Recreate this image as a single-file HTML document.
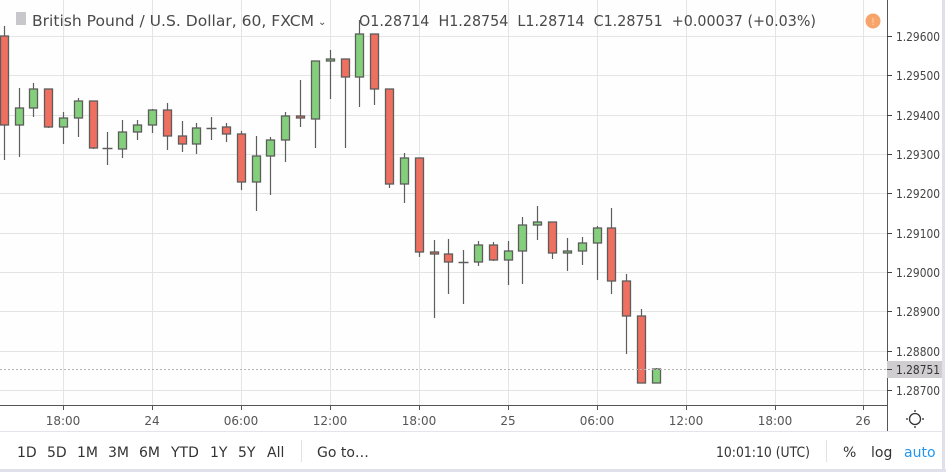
<!DOCTYPE html>
<html><head><meta charset="utf-8"><style>
html,body{margin:0;padding:0;background:#fff;}
body{width:946px;height:472px;overflow:hidden;position:relative;font-family:"DejaVu Sans","Liberation Sans",sans-serif;}
svg text{font-family:"DejaVu Sans","Liberation Sans",sans-serif;}
</style></head><body>
<svg width="946" height="472" viewBox="0 0 946 472" xmlns="http://www.w3.org/2000/svg">
<rect x="0" y="0" width="946" height="472" fill="#fff"/>
<rect x="0" y="0" width="887" height="405" fill="#fdfefd"/>
<g id="grid" stroke="#e4e4e4" stroke-width="1"></g>
<g id="candles"></g>
<line x1="0" y1="369.5" x2="887" y2="369.5" stroke="#b5b5b5" stroke-dasharray="2,2"/>
<!-- header -->
<rect x="16" y="12" width="10" height="13" fill="#c8c8cc"/>
<text x="32" y="26" font-size="15" fill="#4a4a4a" textLength="282" lengthAdjust="spacingAndGlyphs">British Pound / U.S. Dollar, 60, FXCM</text>
<text x="318" y="25" font-size="10" fill="#4a4a4a">⌄</text>
<text x="359" y="26" font-size="15" fill="#4a4a4a" xml:space="preserve" textLength="457" lengthAdjust="spacingAndGlyphs">O1.28714  H1.28754  L1.28714  C1.28751  +0.00037 (+0.03%)</text>
<circle cx="873" cy="21" r="7.5" fill="#f7a46b"/>
<text x="873" y="25" font-size="10" fill="#fcd3b2" text-anchor="middle">!</text>
<!-- price axis -->
<rect x="887" y="0" width="59" height="405" fill="#fff"/>
<line x1="887.5" y1="0" x2="887.5" y2="432" stroke="#555" stroke-width="1"/>
<g id="paxis" font-size="12" fill="#444"></g>
<rect x="887" y="361" width="56" height="17" fill="#cfcdd0"/>
<line x1="887" y1="369.5" x2="892" y2="369.5" stroke="#444"/>
<text x="896" y="374" font-size="12" fill="#333" textLength="44" lengthAdjust="spacingAndGlyphs">1.28751</text>
<!-- time axis -->
<line x1="0" y1="405.5" x2="887" y2="405.5" stroke="#555"/>
<g id="taxis" font-size="12" fill="#555"></g>
<circle cx="915" cy="419" r="5.5" fill="none" stroke="#333" stroke-width="1.3"/>
<g stroke="#333" stroke-width="1.3"><line x1="915" y1="410" x2="915" y2="412"/><line x1="915" y1="426" x2="915" y2="428"/><line x1="906" y1="419" x2="908" y2="419"/><line x1="922" y1="419" x2="924" y2="419"/></g>
<!-- toolbar -->
<line x1="0" y1="431.5" x2="943" y2="431.5" stroke="#e4e4ea"/>
<line x1="943.5" y1="0" x2="943.5" y2="472" stroke="#e0e0ea" stroke-width="3"/>
<line x1="0" y1="470.5" x2="946" y2="470.5" stroke="#e0e0ea" stroke-width="3"/>
<g font-size="14" fill="#333">
<text x="17" y="457">1D</text><text x="47" y="457">5D</text><text x="77" y="457">1M</text><text x="108" y="457">3M</text><text x="139" y="457">6M</text><text x="171" y="457">YTD</text><text x="210" y="457">1Y</text><text x="238" y="457">5Y</text><text x="267" y="457">All</text>
<text x="317" y="457">Go to…</text>
<text x="716" y="457" textLength="94" lengthAdjust="spacingAndGlyphs">10:01:10 (UTC)</text>
<text x="843" y="457">%</text><text x="871" y="457">log</text>
<text x="904" y="457" fill="#2196f3">auto</text>
</g>
<line x1="301.5" y1="440" x2="301.5" y2="462" stroke="#e0e0e6"/>
<line x1="826.5" y1="440" x2="826.5" y2="462" stroke="#e0e0e6"/>
</svg>
<script>
const NS="http://www.w3.org/2000/svg";
function el(p,t,a,txt){const e=document.createElementNS(NS,t);for(const k in a)e.setAttribute(k,a[k]);if(txt)e.textContent=txt;document.getElementById(p).appendChild(e);}
const vx=[63,152,241,330,419,508,597,686,775,863];
vx.forEach(x=>el("grid","line",{x1:x+.5,y1:0,x2:x+.5,y2:405}));
const pl=["1.29600","1.29500","1.29400","1.29300","1.29200","1.29100","1.29000","1.28900","1.28800","1.28700"];
for(let i=0;i<10;i++){const y=Math.round(36+39.33*i)+.5;el("grid","line",{x1:0,y1:y,x2:887,y2:y});
 el("paxis","line",{x1:887,y1:y,x2:892,y2:y,stroke:"#444"});el("paxis","text",{x:896,y:y+4.5,textLength:44,lengthAdjust:"spacingAndGlyphs"},pl[i]);}
const tl=["18:00","24","06:00","12:00","18:00","25","06:00","12:00","18:00","26"];
vx.forEach((x,i)=>{el("taxis","line",{x1:x+.5,y1:405,x2:x+.5,y2:410,stroke:"#555"});el("taxis","text",{x:x,y:425,"text-anchor":"middle"},tl[i]);});
const C=[[26,36,125,160,'r'],[88,108,125,157,'g'],[83,89,108,117,'g'],[89,89,127,128,'r'],[112,118,127,144,'g'],[98,101,118,137,'g'],[101,101,148,149,'r'],[132,148,148,165,'d'],[120,132,149,158,'g'],[120,125,132,140,'g'],[109,110,125,133,'g'],[103,110,136,150,'r'],[121,136,144,152,'r'],[123,128,144,154,'g'],[117,128,128,140,'d'],[123,127,134,142,'r'],[131,134,182,190,'r'],[136,156,182,211,'g'],[137,140,156,195,'g'],[112,116,140,162,'g'],[80,116,118,127,'r'],[61,61,119,148,'g'],[50,59,61,99,'g'],[59,59,77,148,'r'],[20,34,77,107,'g'],[34,34,89,105,'r'],[89,89,184,188,'r'],[153,158,184,203,'g'],[158,158,252,257,'r'],[240,252,254,318,'r'],[239,254,262,294,'r'],[250,262,262,304,'d'],[241,245,262,266,'g'],[242,245,260,261,'r'],[241,251,260,285,'g'],[217,225,251,284,'g'],[206,222,225,240,'g'],[222,222,253,259,'r'],[238,251,253,271,'g'],[237,243,251,265,'g'],[226,228,243,280,'g'],[208,228,281,294,'r'],[274,281,316,354,'r'],[309,316,383,383,'r'],[368,369,383,383,'g']];
C.forEach((c,i)=>{const x=Math.round(63+(i-4)*14.82)+.5;
 el("candles","line",{x1:x,y1:c[0],x2:x,y2:c[3],stroke:"#5d5d5d","stroke-width":1.2});
 if(c[4]=='d'){el("candles","line",{x1:x-5,y1:c[1]+.5,x2:x+5,y2:c[1]+.5,stroke:"#5d5d5d","stroke-width":1.5});}
 else el("candles","rect",{x:x-4,y:c[1],width:8,height:Math.max(c[2]-c[1],1.5),fill:c[4]=='r'?"#ef7060":"#84cf7c",stroke:"#5d5d5d","stroke-width":1.3});
});
</script>
</body></html>
